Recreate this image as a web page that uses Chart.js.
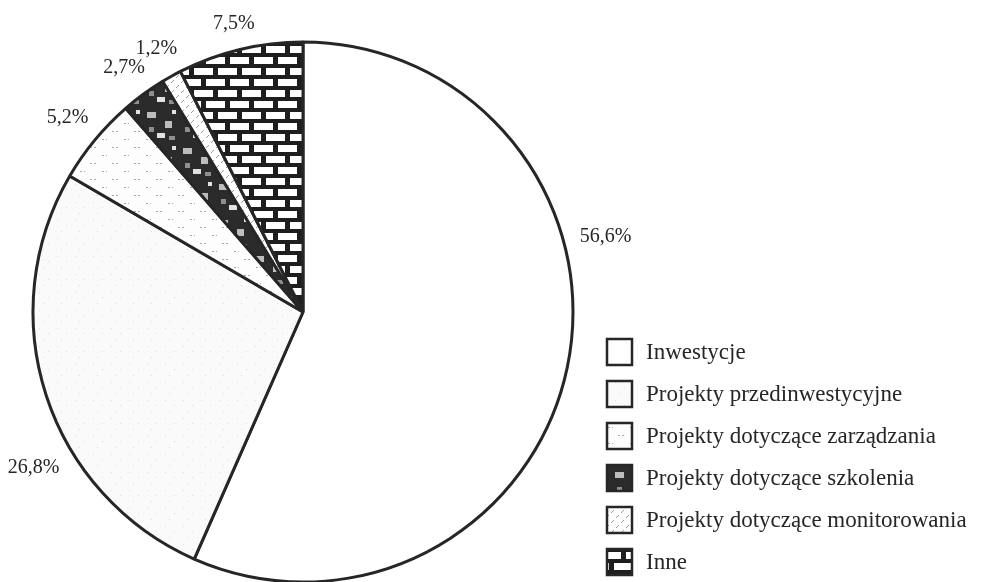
<!DOCTYPE html>
<html>
<head>
<meta charset="utf-8">
<script src="https://cdn.jsdelivr.net/npm/chart.js@4.4.0/dist/chart.umd.min.js"></script>
<style>
html, body { margin: 0; padding: 0; background: #fff; overflow: hidden; }
#wrap { width: 987px; height: 582px; position: relative; }
</style>
</head>
<body>
<div id="wrap"><canvas id="chart-area"></canvas></div>
<script>
// data
var categories = [
    "Inwestycje",
    "Projekty przedinwestycyjne",
    "Projekty dotyczące zarządzania",
    "Projekty dotyczące szkolenia",
    "Projekty dotyczące monitorowania",
    "Inne"
];
var shares = [56.6, 26.8, 5.2, 2.7, 1.2, 7.5];

var ink = '#262626';
var serif = '"Liberation Serif", "DejaVu Serif", serif';

var fmt = function (v) {
    return v.toFixed(1).replace('.', ',') + '%';
};

var makePattern = function (w, h, draw) {
    var c = document.createElement('canvas');
    c.width = w;
    c.height = h;
    var g = c.getContext('2d');
    draw(g);
    return g.createPattern(c, 'repeat');
};

/* fills: plain, faint grey, sparse dots, dark speckle, dashed hatch, brick */
var fills = [
    '#ffffff',
    makePattern(18, 18, function (g) {
        g.fillStyle = '#fafafa';
        g.fillRect(0, 0, 18, 18);
        g.fillStyle = '#dddddd';
        g.fillRect(3, 4, 1, 1);
        g.fillRect(12, 9, 1, 1);
        g.fillRect(7, 15, 1, 1);
    }),
    makePattern(22, 16, function (g) {
        g.fillStyle = '#fdfdfd';
        g.fillRect(0, 0, 22, 16);
        g.fillStyle = '#a8a8a8';
        g.fillRect(2, 3, 2, 1);
        g.fillRect(6, 3, 2, 1);
        g.fillRect(14, 11, 2, 1);
        g.fillRect(18, 11, 1, 1);
    }),
    makePattern(36, 36, function (g) {
        g.fillStyle = '#2b2b2b';
        g.fillRect(0, 0, 36, 36);
        g.fillStyle = '#bdbdbd';
        g.fillRect(3, 4, 9, 6);
        g.fillRect(21, 13, 7, 7);
        g.fillStyle = '#e2e2e2';
        g.fillRect(13, 25, 8, 5);
        g.fillRect(28, 2, 4, 4);
        g.fillStyle = '#8f8f8f';
        g.fillRect(5, 19, 5, 5);
        g.fillRect(25, 28, 6, 4);
    }),
    makePattern(10, 10, function (g) {
        g.fillStyle = '#ffffff';
        g.fillRect(0, 0, 10, 10);
        g.strokeStyle = '#9a9a9a';
        g.lineWidth = 1;
        g.beginPath();
        g.moveTo(1, 3);
        g.lineTo(4, 0);
        g.moveTo(6, 8);
        g.lineTo(9, 5);
        g.stroke();
    }),
    makePattern(24, 22, function (g) {
        g.fillStyle = '#1e1e1e';
        g.fillRect(0, 0, 24, 22);
        g.fillStyle = '#ffffff';
        g.fillRect(2, 2, 19, 7);
        g.fillRect(0, 13, 9, 7);
        g.fillRect(14, 13, 10, 7);
    })
];

var sliceLabels = {
    id: 'sliceLabels',
    afterDatasetsDraw: function (chart, args, opts) {
        var ctx = chart.ctx;
        var meta = chart.getDatasetMeta(0);
        ctx.save();
        ctx.font = opts.font;
        ctx.fillStyle = ink;
        ctx.textAlign = 'center';
        ctx.textBaseline = 'middle';
        meta.data.forEach(function (arc, i) {
            var p = arc.getProps(['x', 'y', 'startAngle', 'endAngle', 'outerRadius'], true);
            var a = p.startAngle + (p.endAngle - p.startAngle) * opts.anchor[i];
            var txt = fmt(chart.data.datasets[0].data[i]);
            var w = ctx.measureText(txt).width;
            var d = p.outerRadius + opts.gap + w / 2 * Math.abs(Math.cos(a)) + 7 * Math.abs(Math.sin(a));
            ctx.fillText(txt, p.x + d * Math.cos(a), p.y + d * Math.sin(a));
        });
        ctx.restore();
    }
};

var boxLegend = {
    id: 'boxLegend',
    afterDraw: function (chart, args, opts) {
        var ctx = chart.ctx;
        var bg = chart.data.datasets[0].backgroundColor;
        ctx.save();
        ctx.font = opts.font;
        ctx.textBaseline = 'middle';
        chart.data.labels.forEach(function (lbl, i) {
            var y = opts.top + i * opts.step;
            ctx.fillStyle = bg[i];
            ctx.fillRect(opts.left, y - 13, 25, 26);
            ctx.lineWidth = 2.5;
            ctx.strokeStyle = ink;
            ctx.strokeRect(opts.left, y - 13, 25, 26);
            ctx.fillStyle = ink;
            ctx.fillText(lbl, opts.left + 39, y + 1);
        });
        ctx.restore();
    }
};

var config = {
    type: 'pie',
    data: {
        labels: categories,
        datasets: [{
            data: shares,
            backgroundColor: fills,
            borderColor: ink,
            borderWidth: 3,
            borderAlign: 'center'
        }]
    },
    options: {
        responsive: true,
        maintainAspectRatio: false,
        animation: false,
        radius: 270,
        layout: {
            padding: { left: 33, right: 414, top: 42, bottom: 0 }
        },
        plugins: {
            legend: { display: false },
            tooltip: { enabled: false },
            sliceLabels: {
                font: '20px ' + serif,
                gap: 15,
                anchor: [0.373, 0.376, 0.5, 0.5, 0.5, 0.5]
            },
            boxLegend: {
                font: '23px ' + serif,
                left: 607,
                top: 352,
                step: 42
            }
        }
    },
    plugins: [sliceLabels, boxLegend]
};

var ctx = document.getElementById("chart-area").getContext("2d");
var myPie = new Chart(ctx, config);
</script>
</body>
</html>
